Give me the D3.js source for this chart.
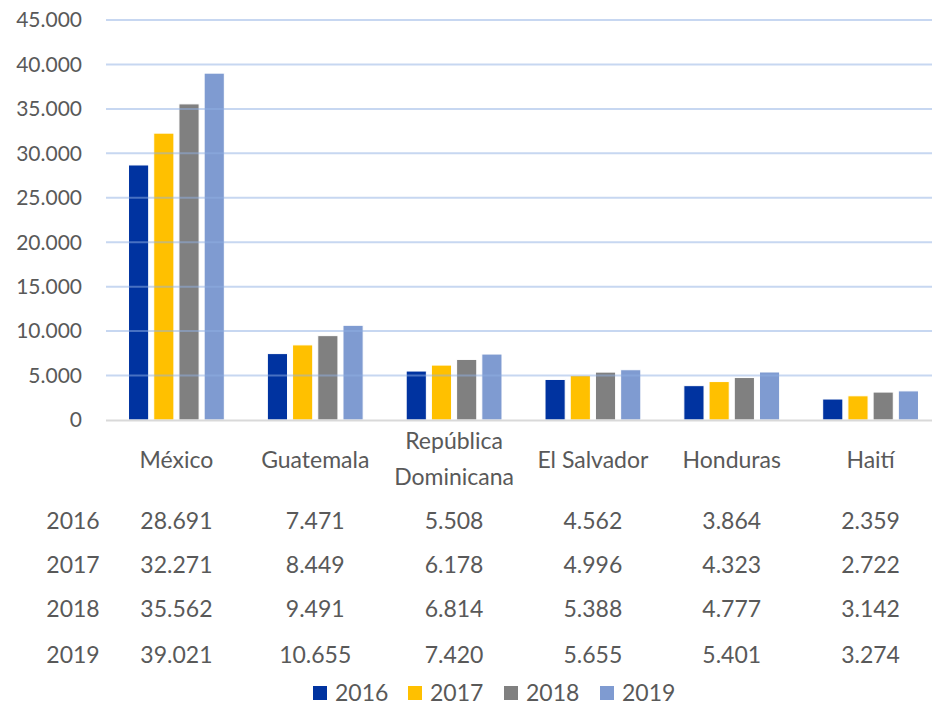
<!DOCTYPE html>
<html lang="es">
<head>
    <meta charset="utf-8"/>
    <title>Remesas por país</title>
    <script src="https://d3js.org/d3.v7.min.js"></script>
    <style>
        body { margin: 0; background: #fff; }
        text { font-family: Lato, "Open Sans", sans-serif; fill: #595959; }
    </style>
</head>
<body>
<script>

    var paises = ["México", "Guatemala", "República Dominicana", "El Salvador", "Honduras", "Haití"];
    var anios = ["2016", "2017", "2018", "2019"];
    var v2016 = [28691, 7471, 5508, 4562, 3864, 2359];
    var v2017 = [32271, 8449, 6178, 4996, 4323, 2722];
    var v2018 = [35562, 9491, 6814, 5388, 4777, 3142];
    var v2019 = [39021, 10655, 7420, 5655, 5401, 3274];
    var yTicks = [0, 5000, 10000, 15000, 20000, 25000, 30000, 35000, 40000, 45000];
    var colores = ["#0033a0", "#ffc000", "#808080", "#7f9bd1"];

    var series = [v2016, v2017, v2018, v2019];

    var width = 932, height = 705;
    var plotL = 106, plotR = 932, plotT = 20, plotB = 420;

    var svg = d3.select("body").append("svg")
                .attr("width", width)
                .attr("height", height);

    var fmt = function(n){ return n === 0 ? "0" : d3.format(",")(n).replace(/,/g, "."); };

    // the category band runs a bit past the right edge, as in the original
    var x0 = d3.scaleBand().domain(paises).range([107, 940]).paddingInner(0.31).paddingOuter(0.155);
    var x1 = d3.scaleBand().domain(anios).range([0, x0.bandwidth()]).paddingInner(0.2).paddingOuter(0);
    var y = d3.scaleLinear().domain([0, 45000]).range([plotB, plotT]);

    // y labels
    svg.append("g").selectAll("text")
       .data(yTicks).enter().append("text")
       .attr("x", 82)
       .attr("y", function(d){ return y(d); })
       .attr("dy", "0.35em")
       .attr("text-anchor", "end")
       .attr("font-size", "21px")
       .text(fmt);

    // bars
    var grp = svg.append("g").selectAll("g")
       .data(paises).enter().append("g")
       .attr("transform", function(d){ return "translate(" + x0(d) + ",0)"; });

    grp.selectAll("rect")
       .data(function(d, i){ return anios.map(function(a, j){ return {a: a, v: series[j][i], c: colores[j]}; }); })
       .enter().append("rect")
       .attr("x", function(d){ return x1(d.a); })
       .attr("width", x1.bandwidth())
       .attr("y", function(d){ return y(d.v); })
       .attr("height", function(d){ return plotB - y(d.v); })
       .attr("fill", function(d){ return d.c; })
       .attr("stroke", "#fff")
       .attr("stroke-width", 1);

    // grid over bars (translucent like the original)
    svg.append("g").selectAll("line")
       .data(yTicks.slice(1)).enter().append("line")
       .attr("x1", plotL).attr("x2", plotR)
       .attr("y1", function(d){ return y(d); })
       .attr("y2", function(d){ return y(d); })
       .attr("stroke", "#8fb0e3")
       .attr("stroke-opacity", 0.5)
       .attr("stroke-width", 2);

    svg.append("line")
       .attr("x1", plotL).attr("x2", plotR)
       .attr("y1", plotB + 0.5).attr("y2", plotB + 0.5)
       .attr("stroke", "#d9d9d9")
       .attr("stroke-width", 2);

    // category labels
    svg.append("g").selectAll("text")
       .data(paises).enter().append("text")
       .attr("text-anchor", "middle")
       .attr("font-size", "23px")
       .attr("x", function(d){ return x0(d) + x0.bandwidth() / 2; })
       .each(function(d){
            var t = d3.select(this);
            if (d === "República Dominicana") {
                t.append("tspan").attr("x", t.attr("x")).attr("y", 449).text("República");
                t.append("tspan").attr("x", t.attr("x")).attr("y", 485).text("Dominicana");
            } else {
                t.attr("y", 468).text(d);
            }
       });

    // data table
    var rowY = [529, 573, 617, 663];
    anios.forEach(function(a, j){
        svg.append("text")
           .attr("x", 73).attr("y", rowY[j])
           .attr("text-anchor", "middle")
           .attr("font-size", "23px")
           .text(a);
        svg.append("g").selectAll("text")
           .data(series[j]).enter().append("text")
           .attr("x", function(d, i){ return x0(paises[i]) + x0.bandwidth() / 2; })
           .attr("y", rowY[j])
           .attr("text-anchor", "middle")
           .attr("font-size", "23px")
           .text(fmt);
    });

    // legend
    var legX = [313, 408, 504, 600];
    var leg = svg.append("g").selectAll("g")
       .data(anios).enter().append("g")
       .attr("transform", function(d, i){ return "translate(" + legX[i] + ",686)"; });
    leg.append("rect")
       .attr("width", 14).attr("height", 14)
       .attr("fill", function(d, i){ return colores[i]; });
    leg.append("text")
       .attr("x", 22).attr("y", 15)
       .attr("font-size", "23px")
       .text(function(d){ return d; });

</script>
</body>
</html>
